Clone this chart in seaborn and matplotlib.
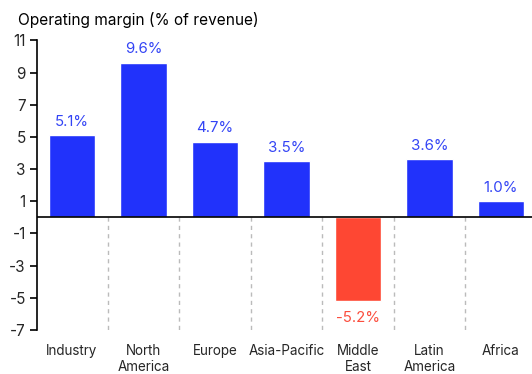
import matplotlib
matplotlib.use("Agg")
import matplotlib.pyplot as plt
import seaborn as sns
import pandas as pd

regions = ["Industry", "North\nAmerica", "Europe", "Asia-Pacific", "Middle\nEast", "Latin\nAmerica", "Africa"]
margins = [5.1, 9.6, 4.7, 3.5, -5.2, 3.6, 1.0]
y_ticks = [-7, -5, -3, -1, 1, 3, 5, 7, 9, 11]

BLUE = "#2132fb"
RED = "#fe4733"
BLUE_TXT = "#3344f5"
RED_TXT = "#fb4d3d"

sns.set_theme(style="white")
plt.rcParams["font.family"] = ["Inter", "DejaVu Sans"]

df = pd.DataFrame({"region": regions, "margin": margins})
df["sign"] = ["neg" if v < 0 else "pos" for v in margins]

fig = plt.figure(figsize=(5.32, 3.74), dpi=100)
ax = fig.add_axes([0.0695, 0.118, 0.93, 0.774])

sns.barplot(data=df, x="region", y="margin", hue="sign",
            palette={"pos": BLUE, "neg": RED}, width=0.65,
            dodge=False, legend=False, saturation=1, ax=ax)

for i, v in enumerate(margins):
    if v >= 0:
        ax.text(i, v + 0.4, f"{v:.1f}%", ha="center", va="bottom",
                color=BLUE_TXT, fontsize=10.8)
    else:
        ax.text(i, v - 0.65, f"{v:.1f}%", ha="center", va="top",
                color=RED_TXT, fontsize=10.8)

# dashed separators between regions below the zero line
for i in range(len(regions) - 1):
    ax.plot([i + 0.5, i + 0.5], [0, -7], ls=(0, (3, 3)), color="#bbbbbb",
            lw=1, zorder=0)

ax.axhline(0, color="black", lw=1.2, zorder=3)

ax.set_ylim(-7, 11)
ax.set_xlim(-0.49, 6.43)
ax.set_yticks(y_ticks)
ax.set_yticklabels([str(t) for t in y_ticks], fontsize=11)
ax.tick_params(axis="y", which="both", left=True, length=5, width=1.2,
               color="black", pad=3)
ax.tick_params(axis="x", length=0, pad=10.5, labelsize=9.7)
for lbl in ax.get_xticklabels():
    lbl.set_linespacing(1.15)
ax.set_xlabel("")
ax.set_ylabel("")

for side in ["top", "right", "bottom"]:
    ax.spines[side].set_visible(False)
ax.spines["left"].set_color("black")
ax.spines["left"].set_linewidth(1.2)

fig.text(0.034, 0.947, "Operating margin (% of revenue)", ha="left", va="center",
         fontsize=11.1, color="black")

fig.savefig("out.png", dpi=100)
